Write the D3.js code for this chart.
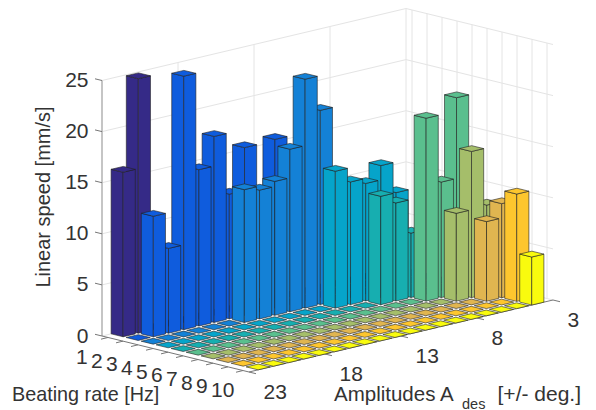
<!DOCTYPE html>
<html>
<head>
<meta charset="utf-8">
<script src="https://cdn.jsdelivr.net/npm/d3@7/dist/d3.min.js"></script>
<style>
  html, body { margin: 0; background: #fff; }
  svg { display: block; }
  text { font-family: "Liberation Sans", Arial, sans-serif; fill: #333; }
</style>
</head>
<body>
<svg width="596" height="410"></svg>
<script>
// beating rates and amplitudes, one row of speeds per rate (amp 22 down to 4)
var rates = [1, 2, 3, 4, 5, 6, 7, 8, 9, 10];
var amps = [22, 21, 20, 19, 18, 17, 16, 15, 14, 13, 12, 11, 10, 9, 8, 7, 6, 5, 4];

var speedRate1 = [16.1, 24.9, 0, 0, 0, 0, 0, 0, 0, 0, 0, 0, 0, 0, 0, 0, 0, 0, 0];
var speedRate2 = [0, 11.8, 8.3, 24.8, 15.3, 18.2, 12.2, 16.4, 0, 16.5, 0, 0, 0, 0, 0, 0, 0, 0, 0];
var speedRate3 = [0, 0, 0, 0, 0, 0, 13.0, 12.6, 13.1, 15.9, 22.4, 19.0, 0, 0, 0, 0, 0, 0, 0];
var speedRate4 = [0, 0, 0, 0, 0, 0, 0, 0, 0, 0, 0, 13.4, 12.0, 11.5, 12.9, 9.9, 0, 0, 0];
var speedRate5 = [0, 0, 0, 0, 0, 0, 0, 0, 0, 0, 0, 0, 0, 10.6, 9.6, 6.3, 0, 0, 0];
var speedRate6 = [0, 0, 0, 0, 0, 0, 0, 0, 0, 0, 0, 0, 0, 0, 0, 17.9, 11.3, 19.2, 0];
var speedRate7 = [0, 0, 0, 0, 0, 0, 0, 0, 0, 0, 0, 0, 0, 0, 0, 0, 8.6, 14.3, 8.7];
var speedRate8 = [0, 0, 0, 0, 0, 0, 0, 0, 0, 0, 0, 0, 0, 0, 0, 0, 0, 7.8, 9.2];
var speedRate9 = [0, 0, 0, 0, 0, 0, 0, 0, 0, 0, 0, 0, 0, 0, 0, 0, 0, 0, 10.5];
var speedRate10 = [0, 0, 0, 0, 0, 0, 0, 0, 0, 0, 0, 0, 0, 0, 0, 0, 0, 0, 4.7];
var speeds = [speedRate1, speedRate2, speedRate3, speedRate4, speedRate5,
  speedRate6, speedRate7, speedRate8, speedRate9, speedRate10];

var rateColors = ["#352a87", "#0f5cdd", "#1481d6", "#06a4ca", "#17aeb0",
  "#5abf8e", "#a5be6a", "#e0b550", "#fdc62e", "#f9fb0e"];

var zTicks = [0, 5, 10, 15, 20, 25];
var ampTicks = [23, 18, 13, 8, 3];

var svg = d3.select("svg");

// oblique projection of the MATLAB box, one scale per screen contribution
var rateX = d3.scaleLinear().domain([0.6, 10.4]).range([0, 147]),
  rateY = d3.scaleLinear().domain([0.6, 10.4]).range([0, 36]),
  ampX = d3.scaleLinear().domain([23, 3]).range([102, 406]),
  ampY = d3.scaleLinear().domain([23, 3]).range([0, -72]),
  zY = d3.scaleLinear().domain([0, 25]).range([336, 80.5]);

function project(r, a, z) {
  return [ampX(a) + rateX(r), zY(z) + rateY(r) + ampY(a)];
}

function path(pts) {
  return "M" + pts.map(function(p) { return p[0].toFixed(2) + "," + p[1].toFixed(2); }).join("L") + "Z";
}

function line(g, p, q, color, width) {
  g.append("line")
    .attr("x1", p[0]).attr("y1", p[1])
    .attr("x2", q[0]).attr("y2", q[1])
    .attr("stroke", color)
    .attr("stroke-width", width);
}

// back walls
var walls = svg.append("g");
var gridColor = "#e4e4e4";
zTicks.forEach(function(z) {
  line(walls, project(0.6, 23, z), project(0.6, 3, z), gridColor, 1);
  line(walls, project(0.6, 3, z), project(10.4, 3, z), gridColor, 1);
});
ampTicks.forEach(function(a) {
  line(walls, project(0.6, a, 0), project(0.6, a, 25), gridColor, 1);
});
rates.forEach(function(r) {
  line(walls, project(r, 3, 0), project(r, 3, 25), gridColor, 1);
});

// axes
var axes = svg.append("g");
var axisColor = "#777";
line(axes, project(0.6, 23, 0), project(0.6, 23, 25), "#999", 1);
line(axes, project(0.6, 23, 0), project(10.4, 23, 0), axisColor, 1);
line(axes, project(10.4, 23, 0), project(10.4, 3, 0), axisColor, 1);

zTicks.forEach(function(z) {
  var p = project(0.6, 23, z);
  line(axes, p, [p[0] - 7, p[1] - 1.7], axisColor, 1);
  axes.append("text")
    .attr("x", p[0] - 13.5)
    .attr("y", p[1] + 6.5)
    .attr("text-anchor", "end")
    .attr("font-size", 21)
    .text(z);
});
rates.forEach(function(r) {
  var p = project(r, 23, 0);
  line(axes, p, [p[0] - 7, p[1] + 1.7], axisColor, 1);
  axes.append("text")
    .attr("x", p[0] - 32)
    .attr("y", p[1] + 26.5)
    .attr("font-size", 21)
    .text(r);
});
ampTicks.forEach(function(a) {
  var p = project(10.4, a, 0);
  line(axes, p, [p[0] + 7, p[1] + 1.7], axisColor, 1);
  axes.append("text")
    .attr("x", p[0] + 14.5)
    .attr("y", p[1] + 27)
    .attr("font-size", 21)
    .text(a);
});

// bars, back to front
var cells = [];
rates.forEach(function(r, i) {
  amps.forEach(function(a, j) {
    cells.push({ rate: r, amp: a, value: speeds[i][j], color: rateColors[i] });
  });
});
cells.sort(function(p, q) {
  return d3.ascending(p.rate + p.amp, q.rate + q.amp);
});

var halfWidth = 0.4;
var bars = svg.append("g")
  .attr("stroke", "#222")
  .attr("stroke-opacity", 0.6)
  .attr("stroke-width", 1)
  .attr("stroke-linejoin", "round");

cells.forEach(function(d) {
  var r0 = d.rate - halfWidth, r1 = d.rate + halfWidth,
    a0 = d.amp - halfWidth, a1 = d.amp + halfWidth,
    h = d.value;
  var g = bars.append("g").attr("fill", d.color);
  if (h > 0) {
    // left face, then right face
    g.append("path").attr("d", path([
      project(r0, a1, 0), project(r1, a1, 0), project(r1, a1, h), project(r0, a1, h)
    ]));
    g.append("path").attr("d", path([
      project(r1, a1, 0), project(r1, a0, 0), project(r1, a0, h), project(r1, a1, h)
    ]));
  }
  g.append("path").attr("d", path([
    project(r0, a1, h), project(r1, a1, h), project(r1, a0, h), project(r0, a0, h)
  ]));
});

// axis titles
svg.append("text")
  .attr("transform", "translate(50,197) rotate(-90)")
  .attr("text-anchor", "middle")
  .attr("font-size", 20)
  .text("Linear speed [mm/s]");
svg.append("text")
  .attr("x", 12).attr("y", 401)
  .attr("font-size", 19.8)
  .text("Beating rate [Hz]");
svg.append("text")
  .attr("x", 334).attr("y", 401)
  .attr("font-size", 20.5)
  .text("Amplitudes A");
svg.append("text")
  .attr("x", 462).attr("y", 409)
  .attr("font-size", 14.5)
  .text("des");
svg.append("text")
  .attr("x", 581).attr("y", 401)
  .attr("text-anchor", "end")
  .attr("font-size", 21)
  .text("[+/- deg.]");
</script>
</body>
</html>
